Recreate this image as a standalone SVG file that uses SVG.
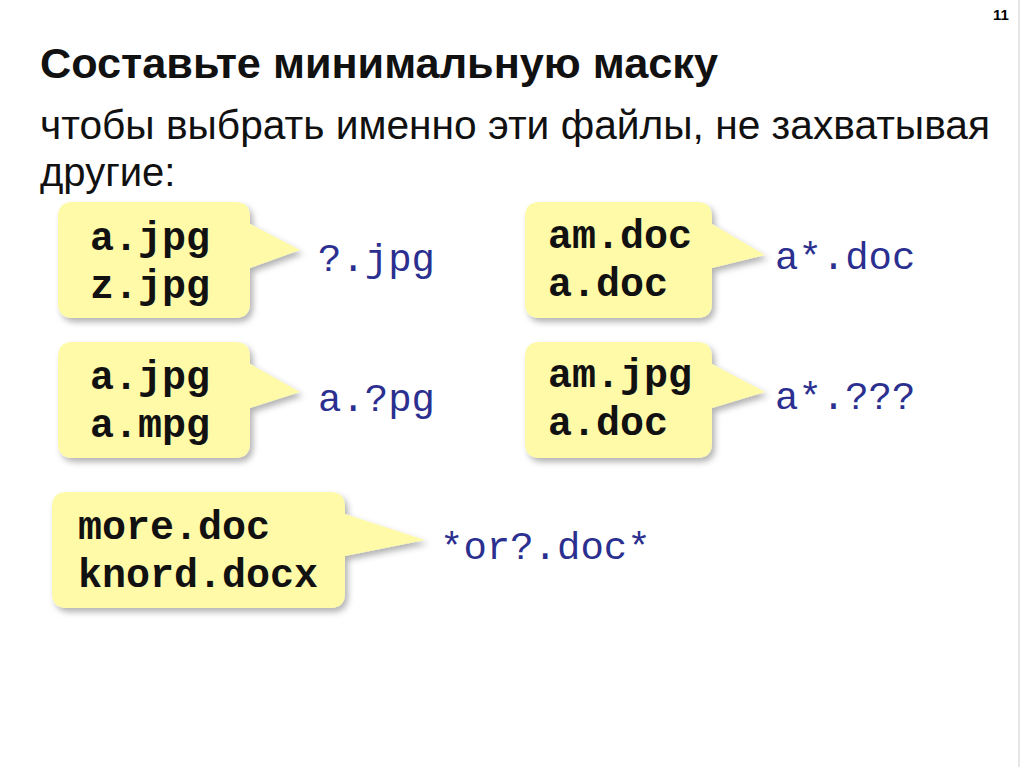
<svg xmlns="http://www.w3.org/2000/svg" width="1024" height="767" viewBox="0 0 1024 767">
<defs>
<style>
.b{fill:#fefaa8;filter:url(#sh)}
.t{font-family:"Liberation Mono",monospace;font-weight:bold;font-size:40px;fill:#111}
.m{font-family:"Liberation Mono",monospace;font-size:39px;fill:#2b2f8f}
</style>
<filter id="sh" x="-10%" y="-10%" width="130%" height="140%"><feDropShadow dx="3" dy="4" stdDeviation="3" flood-color="#000" flood-opacity="0.3"/></filter>
</defs>
<rect width="1024" height="767" fill="#fff"/>
<line x1="1019" y1="0" x2="1019" y2="767" stroke="#e6e6e6" stroke-width="2"/>
<text x="993" y="20" font-family="Liberation Sans,sans-serif" font-weight="bold" font-size="15">11</text>
<text x="40" y="78" font-family="Liberation Sans,sans-serif" font-weight="bold" font-size="42" fill="#111" textLength="678" lengthAdjust="spacingAndGlyphs">Составьте минимальную маску</text>
<text font-family="Liberation Sans,sans-serif" font-size="40" fill="#111"><tspan x="40" y="139" textLength="950" lengthAdjust="spacingAndGlyphs">чтобы выбрать именно эти файлы, не захватывая</tspan><tspan x="40" y="186">другие:</tspan></text>
<g id="n1"><path class="b" d="M73 202H235Q250 202 250 217V224L300 250L250 268V303Q250 318 235 318H73Q58 318 58 303V217Q58 202 73 202Z"/><text class="t" x="90" y="250">a.jpg</text><text class="t" x="90" y="298">z.jpg</text></g>
<g id="n2"><path class="b" d="M540 202H697Q712 202 712 217V224L765 255L712 268V303Q712 318 697 318H540Q525 318 525 303V217Q525 202 540 202Z"/><text class="t" x="548" y="248">am.doc</text><text class="t" x="548" y="296">a.doc</text></g>
<g id="n3"><path class="b" d="M73 342H235Q250 342 250 357V364L300 392L250 408V443Q250 458 235 458H73Q58 458 58 443V357Q58 342 73 342Z"/><text class="t" x="90" y="389">a.jpg</text><text class="t" x="90" y="437">a.mpg</text></g>
<g id="n4"><path class="b" d="M540 342H697Q712 342 712 357V364L765 392L712 408V443Q712 458 697 458H540Q525 458 525 443V357Q525 342 540 342Z"/><text class="t" x="548" y="387">am.jpg</text><text class="t" x="548" y="435">a.doc</text></g>
<g id="n5"><path class="b" d="M67 492H330Q345 492 345 507V514L425 540L345 556V593Q345 608 330 608H67Q52 608 52 593V507Q52 492 67 492Z"/><text class="t" x="78" y="539">more.doc</text><text class="t" x="78" y="587">knord.docx</text></g>
<g id="masks">
<text class="m" x="318" y="271">?.jpg</text>
<text class="m" x="775" y="269">a*.doc</text>
<text class="m" x="318" y="411">a.?pg</text>
<text class="m" x="775" y="409">a*.???</text>
<text class="m" x="440" y="559">*or?.doc*</text>
</g>
</svg>
